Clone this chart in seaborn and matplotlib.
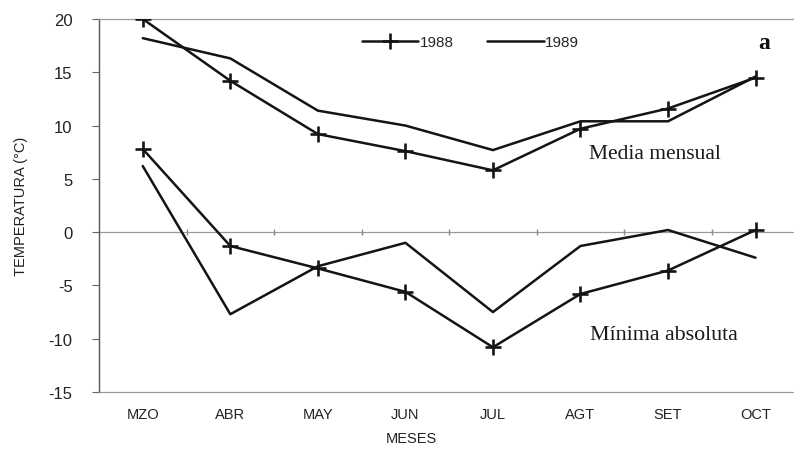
import matplotlib
matplotlib.use("Agg")
import matplotlib.pyplot as plt
import seaborn as sns
import pandas as pd
from matplotlib.lines import Line2D

# Monthly temperatures (°C)
months = ["MZO", "ABR", "MAY", "JUN", "JUL", "AGT", "SET", "OCT"]
media_1988 = [20.0, 14.2, 9.2, 7.6, 5.8, 9.7, 11.6, 14.5]
media_1989 = [18.2, 16.3, 11.4, 10.0, 7.7, 10.4, 10.4, 14.6]
minima_1988 = [7.8, -1.3, -3.4, -5.6, -10.8, -5.8, -3.6, 0.2]
minima_1989 = [6.2, -7.7, -3.2, -1.0, -7.5, -1.3, 0.2, -2.4]
yticks = [20, 15, 10, 5, 0, -5, -10, -15]

sns.set_theme(style="white")
plt.rcParams["font.family"] = ["Liberation Sans", "DejaVu Sans"]

rows = []
for name, year, vals in [("media", "1988", media_1988), ("media", "1989", media_1989),
                         ("minima", "1988", minima_1988), ("minima", "1989", minima_1989)]:
    for i, v in enumerate(vals):
        rows.append({"mes": i, "temp": v, "serie": name + year, "anio": year})
df = pd.DataFrame(rows)

fig = plt.figure(figsize=(7.94, 4.52), dpi=100)
ax = fig.add_axes([0.1247, 0.1305, 0.882, 0.8253])

ink = "#141414"
for serie, sub in df.groupby("serie"):
    has_marker = sub["anio"].iloc[0] == "1988"
    sns.lineplot(data=sub, x="mes", y="temp", ax=ax, color=ink, linewidth=1.8,
                 marker="+" if has_marker else None, markersize=12,
                 markeredgewidth=1.9, markeredgecolor=ink, legend=False, zorder=3)

ax.set_xlim(-0.5, 7.5)
ax.set_ylim(-15, 20)
ax.set_yticks(yticks)
ax.set_yticklabels([str(t) for t in yticks], fontsize=12, color="#222222")
ax.set_xticks(range(len(months)))
ax.set_xticklabels(months, fontsize=10.5, color="#222222")
ax.tick_params(axis="x", length=0, pad=11)
ax.tick_params(axis="y", length=5, width=0.8, color="#666666", pad=14, left=True)

# reference lines and plot frame
ax.axhline(0, color="#9a9a9a", linewidth=0.9, zorder=1)
ax.plot([i + 0.5 for i in range(len(months) - 1)], [0] * (len(months) - 1),
        linestyle="none", marker="|", markersize=4, color="#8a8a8a", zorder=1)
for side in ["top", "bottom"]:
    ax.spines[side].set_color("#9a9a9a")
    ax.spines[side].set_linewidth(0.9)
ax.spines["left"].set_color("#555555")
ax.spines["left"].set_linewidth(1.0)
ax.spines["right"].set_visible(False)

ax.set_xlabel("MESES", fontsize=10.5, color="#222222")
ax.xaxis.set_label_coords(0.446, -0.105)
ax.set_ylabel("TEMPERATURA (°C)", fontsize=10.5, color="#222222")
ax.yaxis.set_label_coords(-0.102, 0.5)

ax.text(5.85, 7.4, "Media mensual", family=["Liberation Serif"], fontsize=15.5,
        color="#1a1a1a", ha="center", va="center")
ax.text(5.95, -9.6, "Mínima absoluta", family=["Liberation Serif"], fontsize=15.8,
        color="#1a1a1a", ha="center", va="center")
ax.text(7.1, 17.8, "a", family=["Liberation Serif"], fontsize=17, fontweight="bold",
        color="#111111", ha="center", va="center")

handles = [Line2D([], [], color=ink, linewidth=1.8, marker="+", markersize=12,
                  markeredgewidth=1.9),
           Line2D([], [], color=ink, linewidth=1.8)]
ax.legend(handles, ["1988", "1989"], loc="center left", bbox_to_anchor=(0.375, 0.938),
          ncol=2, frameon=False, fontsize=11, handlelength=3.7, handletextpad=0.1,
          columnspacing=2.2, borderaxespad=0, borderpad=0)

fig.savefig("out.png", dpi=100)
